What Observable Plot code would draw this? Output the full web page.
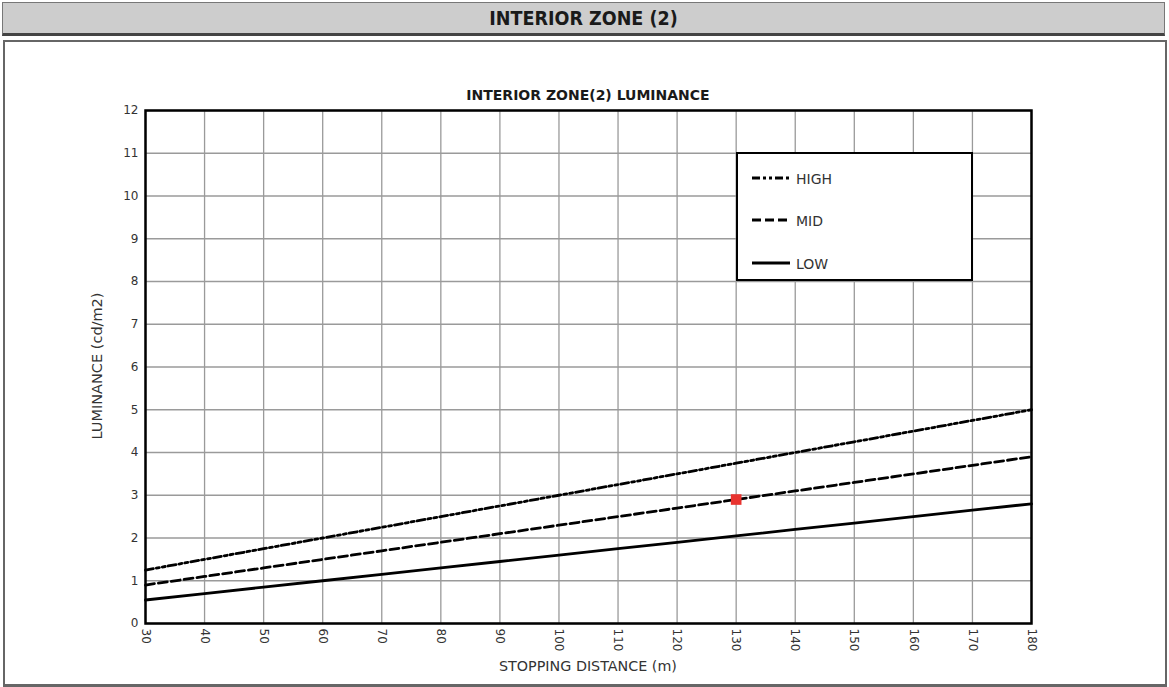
<!DOCTYPE html>
<html><head><meta charset="utf-8">
<script src="https://cdn.jsdelivr.net/npm/d3@7"></script>
<script src="https://cdn.jsdelivr.net/npm/@observablehq/plot@0.6"></script>
<style>
body{margin:0;width:1169px;height:687px;position:relative;background:#fff;font-family:"DejaVu Sans",sans-serif;overflow:hidden}
#hdr{position:absolute;left:2px;top:2px;width:1161px;height:30px;background:#cdcdcd;border:1px solid #777;border-bottom:3px solid #444;text-align:center;line-height:31px;font-weight:bold;font-size:19.5px;font-family:"DejaVu Sans Condensed","DejaVu Sans",sans-serif;color:#1a1a1a}
#box{position:absolute;left:3px;top:40px;width:1160px;height:642px;border:2px solid #666;border-bottom-width:3px}
#ctitle{position:absolute;left:0;width:1176px;top:87px;text-align:center;font-weight:bold;font-size:14px;color:#1a1a1a}
#ylab{position:absolute;left:97px;top:366px;transform:translate(-50%,-50%) rotate(-90deg);font-size:14.5px;color:#333;white-space:nowrap}
#xlab{position:absolute;left:0;width:1176px;top:658px;text-align:center;font-size:14.3px;color:#333}
#chart{position:absolute;left:0;top:0}
#legend{position:absolute;left:736px;top:152px;width:233px;height:125px;border:2px solid #000;background:#fff}
.li{position:absolute;left:14px;font-size:14px;color:#333;height:18px;line-height:18px}
.li svg{vertical-align:middle;margin-right:6px;position:relative;top:-2px}
</style></head><body>
<div id="box"></div>
<div id="hdr">INTERIOR ZONE (2)</div>
<div id="chart"></div>
<div id="ctitle">INTERIOR ZONE(2) LUMINANCE</div>
<div id="ylab">LUMINANCE (cd/m2)</div>
<div id="xlab">STOPPING DISTANCE (m)</div>
<div id="legend"></div>
<script>
const distance = [30,40,50,60,70,80,90,100,110,120,130,140,150,160,170,180];
const high = [1.25,1.5,1.75,2.0,2.25,2.5,2.75,3.0,3.25,3.5,3.75,4.0,4.25,4.5,4.75,5.0];
const mid  = [0.9,1.1,1.3,1.5,1.7,1.9,2.1,2.3,2.5,2.7,2.9,3.1,3.3,3.5,3.7,3.9];
const low  = [0.55,0.7,0.85,1.0,1.15,1.3,1.45,1.6,1.75,1.9,2.05,2.2,2.35,2.5,2.65,2.8];
const seriesNames = ["HIGH","MID","LOW"];
const seriesDash = {HIGH:"8,3,3,3,3,3", MID:"9,4", LOW:null};
const markerDistance = [130];
const markerLum = [2.9];
const xTicks = distance;
const yTicks = [0,1,2,3,4,5,6,7,8,9,10,11,12];

const seriesVals = {HIGH:high, MID:mid, LOW:low};
const rows = s => distance.map((d,i)=>({d, v:seriesVals[s][i]}));
const markerRows = markerDistance.map((d,i)=>({d, v:markerLum[i]}));

const plot = Plot.plot({
  width:1169, height:687,
  marginLeft:145, marginRight:138, marginTop:110, marginBottom:64,
  style:{background:"none", fontSize:"12px", fontFamily:"'DejaVu Sans',sans-serif", color:"#333"},
  x:{domain:[30,180]},
  y:{domain:[0,12]},
  marks:[
    Plot.gridX(xTicks,{stroke:"#9a9a9a", strokeOpacity:1, strokeWidth:1.3}),
    Plot.gridY(yTicks,{stroke:"#9a9a9a", strokeOpacity:1, strokeWidth:1.3}),
    ...seriesNames.map(s=>Plot.lineY(rows(s),{x:"d", y:"v", stroke:"#000", strokeWidth:2.8, strokeDasharray:seriesDash[s]})),
    Plot.dot(markerRows,{x:"d", y:"v", symbol:"square", r:6, fill:"#e8332f", stroke:null}),
    Plot.frame({stroke:"#000", strokeWidth:2.5}),
    Plot.axisX({ticks:xTicks, tickRotate:90, tickSize:0, tickPadding:5, label:null}),
    Plot.axisY({ticks:yTicks, tickSize:0, tickPadding:7, label:null})
  ]
});
document.getElementById("chart").appendChild(plot);

const leg = document.getElementById("legend");
const tops = [16, 58, 101];
seriesNames.forEach((s,i)=>{
  const div = document.createElement("div");
  div.className="li"; div.style.top = tops[i]+"px";
  const dash = seriesDash[s] ? `stroke-dasharray="${seriesDash[s]}"` : "";
  div.innerHTML = `<svg width="38" height="6"><line x1="0" y1="3" x2="38" y2="3" stroke="#000" stroke-width="3" ${dash}/></svg>${s}`;
  leg.appendChild(div);
});
</script>
</body></html>
